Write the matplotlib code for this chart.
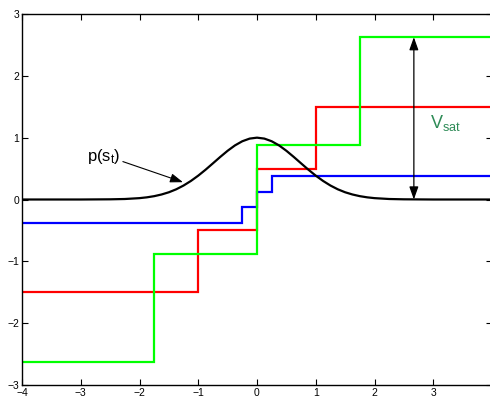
import numpy as np
import matplotlib
matplotlib.use("Agg")
from matplotlib import pyplot as plt

plt.rcParams['font.family'] = ['Liberation Sans', 'DejaVu Sans']
plt.rcParams['mathtext.default'] = 'regular'

# quantizer staircases: edges and output levels
blue_edges = [-4, -0.25, 0, 0.25, 4]
blue_levels = [-0.375, -0.125, 0.125, 0.375]
red_edges = [-4, -1, 0, 1, 4]
red_levels = [-1.5, -0.5, 0.5, 1.5]
green_edges = [-4, -1.75, 0, 1.75, 4]
green_levels = [-2.625, -0.875, 0.875, 2.625]

# density curve p(s_t)
pdf_x = [-4, -3, -2.5, -2.25, -2.0, -1.875, -1.75, -1.625, -1.5, -1.375, -1.25,
         -1.125, -1.0, -0.875, -0.75, -0.625, -0.5, -0.375, -0.25, -0.125, 0,
         0.125, 0.25, 0.375, 0.5, 0.625, 0.75, 0.875, 1.0, 1.125, 1.25,
         1.375, 1.5, 1.625, 1.75, 1.875, 2.0, 2.25, 2.5, 3, 4]
pdf_y = [0, 0, 0.003, 0.008, 0.022, 0.035, 0.054, 0.081, 0.117, 0.165, 0.226,
         0.300, 0.386, 0.482, 0.585, 0.689, 0.788, 0.875, 0.942, 0.985, 1.0,
         0.985, 0.942, 0.875, 0.788, 0.689, 0.585, 0.482, 0.386, 0.300, 0.226,
         0.165, 0.117, 0.081, 0.054, 0.035, 0.022, 0.008, 0.003, 0, 0]

xticks = [-4, -3, -2, -1, 0, 1, 2, 3, 4]
yticks = [-3, -2, -1, 0, 1, 2, 3]

fig = plt.figure(figsize=(4.9, 3.97), dpi=100)
ax = fig.add_axes([22 / 490, 12 / 397, 470 / 490, 371 / 397])

ax.stairs(blue_levels, blue_edges, baseline=None, color='#0000ff', lw=1.6)
ax.stairs(red_levels, red_edges, baseline=None, color='#ff0000', lw=1.6)
ax.stairs(green_levels, green_edges, baseline=None, color='#00ff00', lw=1.6)
ax.plot(pdf_x, pdf_y, color='black', lw=1.6)

# annotations
ax.annotate('p(s$_t$)', xy=(-1.26, 0.28), xytext=(-2.9, 0.69),
            fontsize=12, va='center', ha='left',
            arrowprops=dict(arrowstyle='-|>,head_length=0.7,head_width=0.25',
                            color='black', lw=0.8,
                            mutation_scale=11, shrinkA=0, shrinkB=0,
                            relpos=(1.0, 0.3)))
ax.annotate('', xy=(2.67, 2.625), xytext=(2.67, 0),
            arrowprops=dict(arrowstyle='<|-|>,head_length=0.7,head_width=0.25',
                            color='black', lw=0.9,
                            mutation_scale=11, shrinkA=0, shrinkB=0))
ax.text(2.94, 1.24, 'V$_{sat}$', fontsize=13, color='#2e8b57',
        va='center', ha='left')

ax.set_xlim(-4, 4)
ax.set_ylim(-3, 3)
ax.set_xticks(xticks)
ax.set_yticks(yticks)
xlabels = ['\u2212' + str(-t) if t < 0 else str(t) for t in xticks]
xlabels[-1] = ''  # falls outside the picture in the original
ax.set_xticklabels(xlabels)
ax.set_yticklabels(['\u2212' + str(-t) if t < 0 else str(t) for t in yticks])
ax.tick_params(direction='in', length=4, width=0.8, labelsize=7.5,
               top=True, right=True, pad=2)
for s in ax.spines.values():
    s.set_linewidth(1.0)

fig.savefig('out.png', dpi=100)
